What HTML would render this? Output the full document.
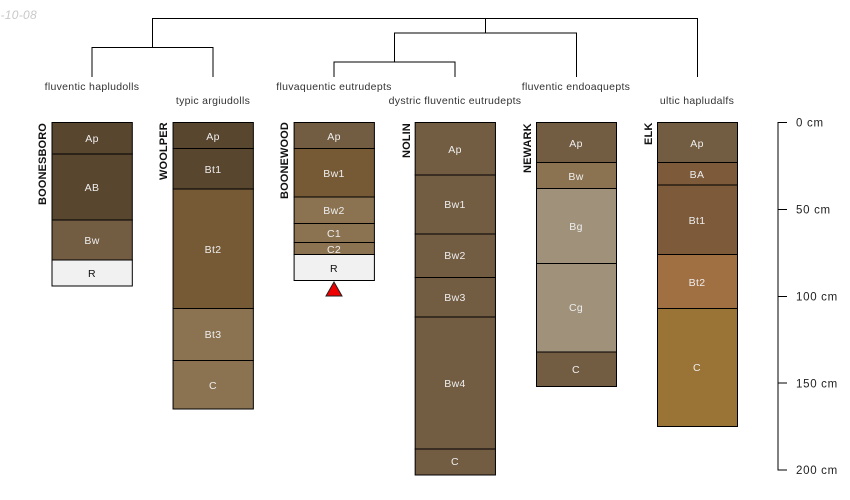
<!DOCTYPE html>
<html><head><meta charset="utf-8"><style>
html,body{margin:0;padding:0;background:#fff}
svg{display:block}
text{font-family:"Liberation Sans",sans-serif}
.l{font-size:10.5px;fill:#333;text-anchor:middle;letter-spacing:.3px}
.h{font-size:10.5px;fill:#eee;text-anchor:middle;letter-spacing:.35px}
.n{font-size:11px;font-weight:bold;fill:#111;text-anchor:start;letter-spacing:.13px}
.d{font-size:11.5px;fill:#222;letter-spacing:.7px}
rect{stroke:#000;stroke-width:1}
.t{fill:none;stroke:#000;stroke-width:1}
</style></head><body>
<svg width="850" height="500" viewBox="0 0 850 500" xmlns="http://www.w3.org/2000/svg">
<text x="37" y="19" text-anchor="end" style="font-size:12px;font-style:italic;fill:#c8c8c8;letter-spacing:.3px">-10-08</text>
<path class="t" d="M152.5 47.5V18.5H697.5V77M92 77V47.5H213V77M485.5 18.5V33M394.5 62V33H576.5V77M334 77V62H455V77"/>
<text class="l" x="92" y="90">fluventic hapludolls</text>
<text class="l" x="213" y="104">typic argiudolls</text>
<text class="l" x="334" y="90">fluvaquentic eutrudepts</text>
<text class="l" x="455" y="104">dystric fluventic eutrudepts</text>
<text class="l" x="576" y="90">fluventic endoaquepts</text>
<text class="l" x="697" y="104">ultic hapludalfs</text>

<g>
<rect x="52" y="122.5" width="80.3" height="31.5" fill="#59462f"/>
<rect x="52" y="154" width="80.3" height="66" fill="#59462f"/>
<rect x="52" y="220" width="80.3" height="40" fill="#725c42"/>
<rect x="52" y="260" width="80.3" height="26" fill="#f1f1f1"/>
<text class="h" x="92" y="142">Ap</text><text class="h" x="92" y="191">AB</text><text class="h" x="92" y="244">Bw</text><text class="h" x="92" y="277" style="fill:#111">R</text>
<text class="n" transform="translate(46,205) rotate(-90)">BOONESBORO</text>
</g>
<g>
<rect x="173.05" y="122.5" width="80.3" height="26" fill="#59462f"/>
<rect x="173.05" y="148.5" width="80.3" height="40.5" fill="#59462f"/>
<rect x="173.05" y="189" width="80.3" height="119.5" fill="#765a36"/>
<rect x="173.05" y="308.5" width="80.3" height="52" fill="#8b7352"/>
<rect x="173.05" y="360.5" width="80.3" height="48.5" fill="#8b7352"/>
<text class="h" x="213" y="140">Ap</text><text class="h" x="213" y="173">Bt1</text><text class="h" x="213" y="253">Bt2</text><text class="h" x="213" y="338">Bt3</text><text class="h" x="213" y="389">C</text>
<text class="n" transform="translate(167,180) rotate(-90)">WOOLPER</text>
</g>
<g>
<rect x="294.1" y="122.5" width="80.3" height="26" fill="#725c42"/>
<rect x="294.1" y="148.5" width="80.3" height="48.5" fill="#765a36"/>
<rect x="294.1" y="197" width="80.3" height="26.5" fill="#8b7352"/>
<rect x="294.1" y="223.5" width="80.3" height="19" fill="#8b7352"/>
<rect x="294.1" y="242.5" width="80.3" height="12" fill="#8b7352"/>
<rect x="294.1" y="254.5" width="80.3" height="26" fill="#f1f1f1"/>
<text class="h" x="334" y="140">Ap</text><text class="h" x="334" y="177">Bw1</text><text class="h" x="334" y="214">Bw2</text><text class="h" x="334" y="237">C1</text><text class="h" x="334" y="253">C2</text><text class="h" x="334" y="272" style="fill:#111">R</text>
<text class="n" transform="translate(288,199) rotate(-90)">BOONEWOOD</text>
<polygon points="334,282 326,296 342,296" fill="#ee0000" stroke="#222" stroke-width="1"/>
</g>
<g>
<rect x="415.15" y="122.5" width="80.3" height="52.5" fill="#725c42"/>
<rect x="415.15" y="175" width="80.3" height="59" fill="#725c42"/>
<rect x="415.15" y="234" width="80.3" height="43.5" fill="#725c42"/>
<rect x="415.15" y="277.5" width="80.3" height="39.5" fill="#725c42"/>
<rect x="415.15" y="317" width="80.3" height="132" fill="#725c42"/>
<rect x="415.15" y="449" width="80.3" height="26" fill="#725c42"/>
<text class="h" x="455" y="153">Ap</text><text class="h" x="455" y="208">Bw1</text><text class="h" x="455" y="259">Bw2</text><text class="h" x="455" y="301">Bw3</text><text class="h" x="455" y="387">Bw4</text><text class="h" x="455" y="465">C</text>
<text class="n" transform="translate(410,158) rotate(-90)">NOLIN</text>
</g>
<g>
<rect x="536.5" y="122.5" width="80" height="40" fill="#725c42"/>
<rect x="536.5" y="162.5" width="80" height="26" fill="#8b7352"/>
<rect x="536.5" y="188.5" width="80" height="75" fill="#9f917a"/>
<rect x="536.5" y="263.5" width="80" height="88.5" fill="#9f917a"/>
<rect x="536.5" y="352" width="80" height="34.5" fill="#725c42"/>
<text class="h" x="576" y="147">Ap</text><text class="h" x="576" y="180">Bw</text><text class="h" x="576" y="230">Bg</text><text class="h" x="576" y="311">Cg</text><text class="h" x="576" y="373">C</text>
<text class="n" transform="translate(531,173) rotate(-90)">NEWARK</text>
</g>
<g>
<rect x="657.5" y="122.5" width="80" height="40" fill="#725c42"/>
<rect x="657.5" y="162.5" width="80" height="22.5" fill="#7c5a3a"/>
<rect x="657.5" y="185" width="80" height="69.5" fill="#7c5a3a"/>
<rect x="657.5" y="254.5" width="80" height="54" fill="#a06f42"/>
<rect x="657.5" y="308.5" width="80" height="118" fill="#9a7337"/>
<text class="h" x="697" y="147">Ap</text><text class="h" x="697" y="178">BA</text><text class="h" x="697" y="224">Bt1</text><text class="h" x="697" y="286">Bt2</text><text class="h" x="697" y="371">C</text>
<text class="n" transform="translate(652,145) rotate(-90)">ELK</text>
</g>

<path d="M787 122.5H778V470H787M778 209.5H787M778 296.5H787M778 383H787" fill="none" stroke="#000" stroke-width="1"/>
<text class="d" x="796" y="126.5">0 cm</text>
<text class="d" x="796" y="213.5">50 cm</text>
<text class="d" x="796" y="300.5">100 cm</text>
<text class="d" x="796" y="387.5">150 cm</text>
<text class="d" x="796" y="474">200 cm</text>
</svg>
</body></html>
